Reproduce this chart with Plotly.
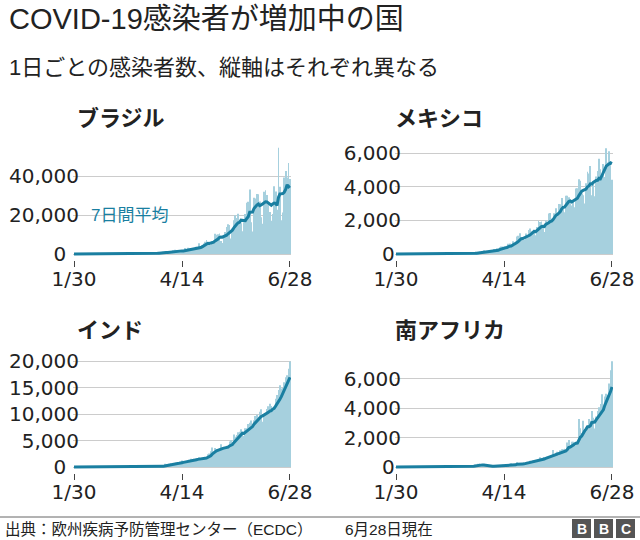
import plotly.graph_objects as go
import pandas as pd

# daily new cases (ECDC), 2020-01-30 .. 2020-06-28
dates = pd.date_range("2020-01-30", "2020-06-28", freq="D")

brazil = [
    0, 0,
    0, 0, 0, 0, 0, 0, 0, 0, 0, 0, 0, 0, 0, 0, 0, 0, 0, 0, 0, 0, 0, 0, 0, 0, 0, 1, 0, 0, 1,
    0, 0, 0, 0, 1, 5, 5, 1, 12, 5, 4, 18, 25, 21, 23, 79, 34, 57, 137, 193,
    283, 224, 418, 345, 310, 232, 482, 502, 487, 352, 323,
    1138, 1119, 1208, 1012, 1304, 770, 1031, 1873, 2136, 1922,
    1546, 1089, 1442, 1261, 1832, 3058, 2105, 3257, 2976, 1996,
    2089, 2336, 2678, 3735, 3503, 5514, 3379, 4613, 5385, 6276,
    7218, 6209, 4970, 4588, 6633, 6935, 10503, 9888, 10222, 10611,
    6760, 5632, 9258, 11385, 13944, 15305, 14919, 7938, 13140, 17408,
    19951, 18508, 20803, 16508, 15813, 11687, 16324, 20599, 26417, 26928, 33274,
    16409, 11598, 28936, 28633, 30925, 30830, 27075, 18912, 15654, 32091,
    32913, 30412, 25982, 21704, 17110, 20647, 34918, 32188, 22765, 54771,
    34666, 17459, 21432, 39436, 42725, 39483, 46860, 38693,
]

mexico = [
    0, 0,
    0, 0, 0, 0, 0, 0, 0, 0, 0, 0, 0, 0, 0, 0, 0, 0, 0, 0, 0, 0, 0, 0, 0, 0, 0, 0, 0, 1, 3,
    1, 0, 0, 0, 0, 1, 0, 1, 0, 0, 4, 4, 0, 14, 15, 12, 29, 11, 25, 46,
    39, 48, 65, 51, 38, 70, 110, 132, 131, 145, 216,
    121, 163, 178, 132, 202, 154, 296, 188, 341, 260,
    403, 450, 442, 325, 385, 448, 605, 622, 464, 764,
    511, 729, 1043, 1089, 1239, 970, 835, 852, 1223, 1047,
    1425, 1515, 1349, 1383, 1434, 1120, 1609, 1982, 1906, 1938,
    1562, 1305, 1997, 1862, 2409, 2437, 2112, 2075, 2414, 2713,
    2248, 2973, 2960, 3329, 2764, 2485, 3455, 3463, 3377, 3227, 2885,
    3152, 2771, 3891, 3912, 4442, 4346, 3593, 3484, 2999, 4199,
    4883, 4790, 5222, 3494, 4147, 3427, 4599, 4930, 5662, 5030,
    4717, 5343, 4577, 6288, 5437, 6104, 5441, 4410,
]

india = [
    1, 0,
    0, 1, 1, 0, 0, 0, 0, 0, 0, 0, 0, 0, 0, 0, 0, 0, 0, 0, 0, 0, 0, 0, 0, 0, 0, 0, 0, 0, 0,
    0, 0, 2, 1, 22, 2, 1, 3, 5, 9, 15, 8, 5, 10, 12, 6, 21, 14, 15, 22,
    54, 75, 69, 99, 86, 88, 75, 149, 106, 92, 227,
    146, 601, 545, 478, 601, 693, 490, 573, 565, 813,
    871, 854, 758, 1243, 1031, 886, 1061, 922, 1371, 1580,
    1239, 1537, 1292, 1667, 1408, 1835, 1607, 1568, 1902, 1705,
    1801, 2396, 2564, 2952, 3656, 2971, 3602, 3344, 3339, 3175,
    4311, 3592, 3562, 3726, 3991, 3808, 4794, 5049, 4628, 6154,
    5720, 6023, 6536, 6667, 7111, 6414, 5843, 7293, 7300, 8105, 8336,
    8789, 7761, 8821, 9638, 9847, 9472, 10408, 10882, 8536, 9981,
    9996, 10956, 11458, 11929, 11502, 10667, 10974, 12881, 13586, 14516,
    15413, 14821, 14933, 15968, 16922, 17296, 18552, 19906,
]

south_africa = [
    0, 0,
    0, 0, 0, 0, 0, 0, 0, 0, 0, 0, 0, 0, 0, 0, 0, 0, 0, 0, 0, 0, 0, 0, 0, 0, 0, 0, 0, 0, 0,
    0, 0, 0, 0, 0, 1, 0, 1, 0, 4, 1, 6, 3, 8, 14, 10, 11, 23, 31, 34,
    52, 38, 34, 128, 152, 155, 218, 243, 17, 93, 46,
    27, 27, 82, 43, 80, 70, 31, 63, 96, 89,
    69, 25, 145, 99, 143, 91, 178, 87, 251, 142,
    124, 165, 318, 148, 178, 267, 251, 174, 318, 354,
    297, 424, 385, 447, 437, 352, 424, 489, 663, 595,
    595, 683, 645, 698, 665, 711, 817, 1160, 767, 975,
    1032, 803, 1134, 1205, 1218, 1240, 1032, 1673, 1837, 1288, 1727,
    1716, 1674, 1455, 1713, 3267, 2642, 2312, 3147, 2594, 2430,
    2810, 3267, 3155, 3809, 3359, 2618, 3449, 3809, 4078, 4302,
    4966, 4018, 4800, 5000, 4900, 5700, 6600, 7210,
]

names = ["ブラジル", "メキシコ", "インド", "南アフリカ"]
series = [brazil, mexico, india, south_africa]
yticks = [
    [0, 20000, 40000],
    [0, 2000, 4000, 6000],
    [0, 5000, 10000, 15000, 20000],
    [0, 2000, 4000, 6000],
]
ylabels = [
    ["0\u00a0\u00a0", "20,000", "40,000"],
    ["0\u00a0", "2,000", "4,000", "6,000"],
    ["0\u00a0\u00a0", "5,000", "10,000", "15,000", "20,000"],
    ["0\u00a0", "2,000", "4,000", "6,000"],
]
xtick_dates = ["2020-01-30", "2020-04-14", "2020-06-28"]
xtick_labels = ["1/30", "4/14", "6/28"]

FONT = "Liberation Sans, Noto Sans CJK JP, sans-serif"
TICKFONT = "DejaVu Sans, sans-serif"
TEAL = "#1a7fa1"
BAR = "#a6d0de"
W, H = 640, 540

# pixel boxes of each panel: (left, right, top, bottom), y range
boxes = [
    ((73, 291, 145, 260), [-3093, 56190]),
    ((395, 613, 145, 260), [-356, 6476]),
    ((73, 291, 358, 473), [-1132, 20566]),
    ((395, 613, 358, 473), [-409, 7430]),
]

fig = go.Figure()
layout = {}
for i, (name, vals) in enumerate(zip(names, series)):
    s = "" if i == 0 else str(i + 1)
    avg = pd.Series(vals).rolling(7, min_periods=1).mean()
    fig.add_trace(go.Bar(x=dates, y=vals, marker_color=BAR, marker_line_width=0,
                         xaxis="x" + s, yaxis="y" + s, hoverinfo="skip"))
    fig.add_trace(go.Scatter(x=dates, y=avg, mode="lines",
                             line=dict(color=TEAL, width=3),
                             xaxis="x" + s, yaxis="y" + s))
    (l, r, t, b), yr = boxes[i]
    layout["xaxis" + s] = dict(
        domain=[l / W, r / W], anchor="y" + s, type="date",
        range=["2020-01-29 07:00", "2020-06-28 17:00"],
        tickvals=xtick_dates, ticktext=xtick_labels,
        ticks="outside", ticklen=6, tickcolor="#444", tickwidth=1,
        ticklabelstandoff=-5,
        showgrid=False, showline=False, zeroline=False,
        tickfont=dict(family=TICKFONT, size=20, color="#222"),
    )
    layout["yaxis" + s] = dict(
        domain=[1 - b / H, 1 - t / H], anchor="free", position=(l + 6) / W,
        range=yr, tickvals=yticks[i], ticktext=ylabels[i],
        showgrid=True, gridcolor="#cccccc", gridwidth=1,
        zeroline=False, showline=False, ticks="",
        tickfont=dict(family=TICKFONT, size=20, color="#222"),
    )

fig.update_layout(**layout)

ann = [
    dict(text="COVID-19感染者が増加中の国", x=7 / W, y=1 - 19 / H, font=dict(size=29, color="#222")),
    dict(text="1日ごとの感染者数、縦軸はそれぞれ異なる", x=7 / W, y=1 - 68 / H,
         font=dict(size=22, color="#222")),
    dict(text="7日間平均", x=89 / W, y=1 - 215 / H, font=dict(size=17, color=TEAL)),
    dict(text="出典：欧州疾病予防管理センター（ECDC）", x=3 / W, y=1 - 529.5 / H,
         font=dict(size=15.5, color="#222")),
    dict(text="6月28日現在", x=343 / W, y=1 - 529.5 / H,
         font=dict(size=15.5, color="#222")),
]
panel_pos = [(75, 118), (393, 118), (75, 330), (393, 330)]
for name, (px, py) in zip(names, panel_pos):
    ann.append(dict(text=name, x=px / W, y=1 - py / H,
                    font=dict(size=22, color="#222", weight="bold")))
for a in ann:
    a.update(xref="paper", yref="paper", xanchor="left", yanchor="middle", showarrow=False)

shapes = [dict(type="line", xref="paper", yref="paper", x0=0, x1=1,
               y0=1 - 517 / H, y1=1 - 517 / H, line=dict(color="#666", width=1))]
for j, letter in enumerate("BBC"):
    x0 = 572 + j * 22
    shapes.append(dict(type="rect", xref="paper", yref="paper",
                       x0=x0 / W, x1=(x0 + 19) / W, y0=1 - 538 / H, y1=1 - 519 / H,
                       fillcolor="#555", line_width=0))
    ann.append(dict(text=letter, x=(x0 + 9.5) / W, y=1 - 528.5 / H, xref="paper", yref="paper",
                    xanchor="center", yanchor="middle", showarrow=False,
                    font=dict(size=14, color="white", weight="bold")))

fig.update_layout(
    width=W, height=H, margin=dict(l=0, r=0, t=0, b=0, autoexpand=False),
    paper_bgcolor="white", plot_bgcolor="white",
    font=dict(family=FONT, color="#222"),
    showlegend=False, bargap=0.4,
    annotations=ann, shapes=shapes,
)

# the page's default body margin would push the 640x540 figure off the window
fig.write_html("out.html", config={"displayModeBar": False},
               post_script="document.body.style.margin = '0';")
